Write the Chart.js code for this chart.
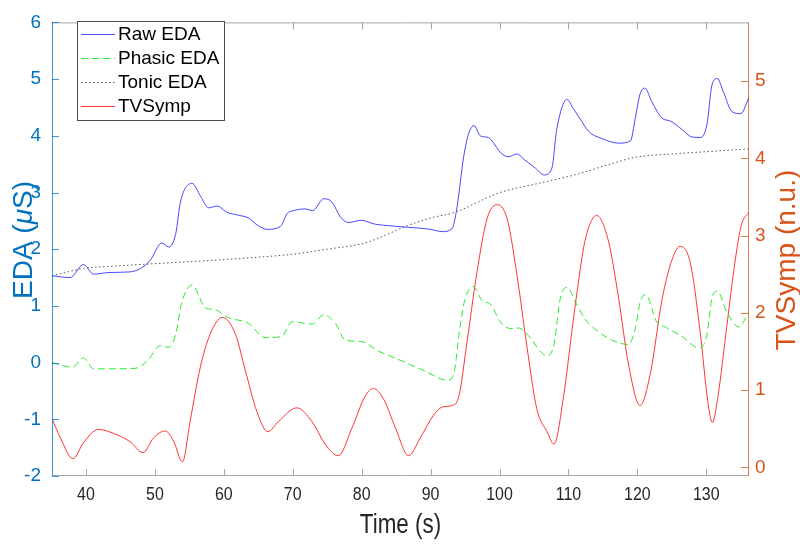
<!DOCTYPE html>
<html>
<head>
<meta charset="utf-8">
<script src="https://cdn.jsdelivr.net/npm/chart.js@4.4.0/dist/chart.umd.min.js"></script>
<style>
  body { margin: 0; background: #fff; }
  #wrap { width: 800px; height: 546px; }
</style>
</head>
<body>
<div id="wrap"><canvas id="eda"></canvas></div>
<script>
// values (time in s)
var rawTime = [35.07, 37.7, 39.65, 41.1, 43.5, 46.4, 47.9, 49.3, 51.0, 52.0, 53.0, 53.7, 55.4, 56.6, 57.8, 59.0, 60.5, 62.1, 63.6, 64.8, 66.3, 68.2, 69.2, 70.1, 71.8, 72.9, 74.5, 75.7, 76.9, 78.1, 79.9, 82.0, 84.4, 86.3, 88.5, 90.0, 91.7, 93.1, 93.8, 94.8, 95.5, 96.3, 97.2, 98.4, 99.1, 100.1, 101.3, 102.5, 103.7, 105.2, 106.5, 107.6, 108.3, 109.8, 110.7, 111.7, 112.9, 114.9, 117.3, 119.0, 119.7, 120.4, 121.1, 122.1, 123.6, 124.8, 126.5, 127.9, 129.1, 130.1, 130.8, 131.6, 132.5, 133.7, 135.0, 136.2];
var rawEda = [1.53, 1.50, 1.73, 1.56, 1.59, 1.60, 1.66, 1.80, 2.11, 2.04, 2.26, 2.83, 3.16, 2.94, 2.73, 2.76, 2.65, 2.60, 2.55, 2.43, 2.35, 2.40, 2.63, 2.68, 2.71, 2.68, 2.89, 2.83, 2.57, 2.47, 2.51, 2.44, 2.41, 2.39, 2.37, 2.35, 2.31, 2.36, 2.71, 3.63, 4.03, 4.18, 4.00, 3.97, 3.88, 3.71, 3.63, 3.68, 3.57, 3.43, 3.31, 3.43, 4.11, 4.64, 4.48, 4.30, 4.08, 3.95, 3.87, 3.91, 4.31, 4.74, 4.84, 4.60, 4.31, 4.26, 4.11, 3.98, 3.97, 4.20, 4.88, 5.01, 4.77, 4.43, 4.39, 4.68];

var phasicTime = [35.07, 38.0, 39.65, 41.1, 44.5, 47.2, 48.9, 50.8, 52.0, 53.0, 53.9, 55.4, 57.3, 58.8, 60.5, 63.6, 66.0, 68.4, 69.9, 72.8, 74.5, 76.2, 77.6, 80.0, 82.5, 86.0, 89.0, 92.4, 93.3, 94.3, 95.0, 96.2, 97.5, 98.7, 100.1, 101.6, 102.8, 104.5, 105.9, 106.9, 107.9, 108.8, 109.8, 111.1, 112.4, 114.4, 116.8, 118.7, 119.7, 120.4, 121.2, 122.8, 124.0, 126.5, 128.9, 130.1, 130.8, 131.6, 133.0, 134.7, 136.2];
var phasicEda = [0.00, -0.08, 0.08, -0.11, -0.11, -0.10, 0.03, 0.30, 0.27, 0.49, 1.06, 1.37, 0.97, 0.93, 0.80, 0.69, 0.44, 0.46, 0.72, 0.68, 0.84, 0.69, 0.40, 0.37, 0.20, 0.02, -0.14, -0.31, -0.23, 0.66, 1.12, 1.34, 1.09, 1.03, 0.72, 0.60, 0.61, 0.43, 0.20, 0.12, 0.32, 1.12, 1.33, 1.05, 0.77, 0.54, 0.37, 0.32, 0.60, 1.06, 1.20, 0.72, 0.63, 0.46, 0.26, 0.49, 1.12, 1.26, 0.89, 0.63, 0.89];

var tonicTime = [35.07, 39.65, 44.0, 49.3, 55.0, 60.5, 65.0, 69.9, 75.0, 80.5, 83.5, 86.3, 90.0, 93.8, 97.0, 100.1, 106.0, 111.5, 115.5, 119.7, 125.0, 130.0, 136.2];
var tonicEda = [1.53, 1.66, 1.70, 1.74, 1.78, 1.82, 1.86, 1.91, 2.00, 2.11, 2.25, 2.40, 2.55, 2.66, 2.84, 3.00, 3.17, 3.33, 3.48, 3.62, 3.68, 3.72, 3.77];

var symTime = [35.07, 36.3, 38.1, 39.65, 41.8, 44.5, 46.4, 48.3, 49.8, 51.5, 52.7, 54.0, 55.1, 56.6, 58.0, 59.8, 61.7, 63.1, 64.8, 66.4, 67.9, 70.6, 72.8, 74.7, 76.6, 78.6, 80.5, 81.7, 83.2, 84.9, 86.8, 88.5, 90.4, 91.7, 93.1, 94.1, 95.3, 96.7, 98.2, 99.6, 101.1, 102.5, 104.0, 105.4, 106.9, 107.9, 109.3, 110.5, 111.3, 112.4, 114.1, 115.8, 117.3, 118.7, 120.4, 121.9, 123.6, 125.0, 126.2, 127.7, 129.1, 130.3, 130.9, 131.7, 133.0, 134.2, 135.1, 136.2];
var tvSymp = [0.63, 0.38, 0.11, 0.32, 0.49, 0.42, 0.33, 0.19, 0.38, 0.47, 0.34, 0.07, 0.59, 1.30, 1.72, 1.94, 1.72, 1.26, 0.72, 0.46, 0.59, 0.77, 0.59, 0.30, 0.15, 0.51, 0.92, 1.02, 0.88, 0.51, 0.15, 0.38, 0.67, 0.78, 0.80, 0.92, 1.63, 2.51, 3.22, 3.40, 3.22, 2.51, 1.55, 0.76, 0.46, 0.30, 0.92, 1.76, 2.30, 2.93, 3.26, 2.93, 2.18, 1.34, 0.80, 1.22, 2.18, 2.68, 2.86, 2.64, 1.76, 0.80, 0.58, 0.92, 1.84, 2.68, 3.14, 3.30];

var seriesNames = ['Raw EDA', 'Phasic EDA', 'Tonic EDA', 'TVSymp'];
var leftRange = [-2, 6];
var rightRange = [-0.113, 5.76];
var timeRange = [35.07, 136.2];

var blue = '#0072BD', orange = '#D95319';
var fam = '"Liberation Sans", Arial, sans-serif';

function pts(t, v) {
  return t.map(function (x, i) { return { x: x, y: v[i] }; });
}

// axis box with inward ticks, like the matlab figure
var boxAxes = {
  id: 'boxAxes',
  afterDraw: function (chart) {
    var ctx = chart.ctx, a = chart.chartArea;
    var sx = chart.scales.x, sl = chart.scales.y, sr = chart.scales.y2;
    ctx.save();
    ctx.lineWidth = 1;
    ctx.strokeStyle = '#a6a6a6';
    ctx.beginPath();
    ctx.moveTo(a.left, a.top + 0.5); ctx.lineTo(a.right, a.top + 0.5);
    ctx.moveTo(a.left, a.bottom - 0.5); ctx.lineTo(a.right, a.bottom - 0.5);
    sx.ticks.forEach(function (t) {
      var p = Math.round(sx.getPixelForValue(t.value)) + 0.5;
      ctx.moveTo(p, a.bottom); ctx.lineTo(p, a.bottom - 7);
      ctx.moveTo(p, a.top); ctx.lineTo(p, a.top + 7);
    });
    ctx.stroke();

    ctx.strokeStyle = 'rgba(0,114,189,0.75)';
    ctx.beginPath();
    ctx.moveTo(a.left + 0.5, a.top); ctx.lineTo(a.left + 0.5, a.bottom);
    sl.ticks.forEach(function (t) {
      var p = Math.round(sl.getPixelForValue(t.value)) + 0.5;
      ctx.moveTo(a.left, p); ctx.lineTo(a.left + 7, p);
    });
    ctx.stroke();

    ctx.strokeStyle = 'rgba(217,83,25,0.75)';
    ctx.beginPath();
    ctx.moveTo(a.right - 0.5, a.top); ctx.lineTo(a.right - 0.5, a.bottom);
    sr.ticks.forEach(function (t) {
      var p = Math.round(sr.getPixelForValue(t.value)) + 0.5;
      ctx.moveTo(a.right, p); ctx.lineTo(a.right - 8, p);
    });
    ctx.stroke();

    // x tick labels, slightly condensed like the original font
    ctx.fillStyle = '#262626';
    ctx.font = '19px ' + fam;
    ctx.textAlign = 'center';
    ctx.textBaseline = 'middle';
    sx.ticks.forEach(function (t) {
      var p = sx.getPixelForValue(t.value);
      ctx.save();
      ctx.translate(p, a.bottom + 19);
      ctx.scale(0.84, 1);
      ctx.fillText(String(t.value), 0, 0);
      ctx.restore();
    });
    ctx.restore();
  }
};

// axis titles (the mu is italic, so drawn by hand)
var axisTitles = {
  id: 'axisTitles',
  afterDraw: function (chart) {
    var ctx = chart.ctx, a = chart.chartArea;
    function rich(parts, x, y, rot, sq, color, size) {
      ctx.save();
      ctx.translate(x, y);
      ctx.rotate(rot);
      ctx.scale(sq, 1);
      ctx.fillStyle = color;
      ctx.textBaseline = 'middle';
      ctx.textAlign = 'left';
      var w = 0;
      parts.forEach(function (p) {
        ctx.font = (p.it ? 'italic ' : '') + size + 'px ' + fam;
        w += ctx.measureText(p.s).width;
      });
      var cx = -w / 2;
      parts.forEach(function (p) {
        ctx.font = (p.it ? 'italic ' : '') + size + 'px ' + fam;
        ctx.fillText(p.s, cx, 0);
        cx += ctx.measureText(p.s).width;
      });
      ctx.restore();
    }
    rich([{ s: 'EDA (' }, { s: 'μ', it: true }, { s: 'S)' }], 24, 240, -Math.PI / 2, 1, blue, 28);
    rich([{ s: 'TVSymp (n.u.)' }], 787, 260, -Math.PI / 2, 1, orange, 28);
    rich([{ s: 'Time (s)' }], (a.left + a.right) / 2, 525, 0, 0.8, '#262626', 28);
  }
};

// legend box in the upper left of the axes
var boxLegend = {
  id: 'boxLegend',
  afterDraw: function (chart) {
    var ctx = chart.ctx;
    var x0 = 77, y0 = 21, w = 147, h = 99;
    ctx.save();
    ctx.fillStyle = '#fff';
    ctx.fillRect(x0, y0, w, h);
    ctx.strokeStyle = '#4d4d4d';
    ctx.lineWidth = 1;
    ctx.strokeRect(x0 + 0.5, y0 + 0.5, w, h);
    ctx.font = '19px ' + fam;
    ctx.textBaseline = 'middle';
    chart.data.datasets.forEach(function (ds, i) {
      var y = y0 + 13 + i * 24;
      ctx.strokeStyle = ds.borderColor;
      ctx.lineWidth = 1;
      ctx.setLineDash(ds.borderDash || []);
      ctx.beginPath();
      ctx.moveTo(81, y + 0.5); ctx.lineTo(115, y + 0.5);
      ctx.stroke();
      ctx.setLineDash([]);
      ctx.fillStyle = '#000';
      ctx.fillText(ds.label, 118, y + 1);
    });
    ctx.restore();
  }
};

var ctx = document.getElementById('eda').getContext('2d');
var chart = new Chart(ctx, {
  type: 'line',
  data: {
    datasets: [{
      label: seriesNames[0],
      data: pts(rawTime, rawEda),
      borderColor: 'rgba(40,40,255,0.85)',
      yAxisID: 'y'
    }, {
      label: seriesNames[1],
      data: pts(phasicTime, phasicEda),
      borderColor: 'rgba(20,230,20,0.9)',
      borderDash: [7, 4],
      yAxisID: 'y'
    }, {
      label: seriesNames[2],
      data: pts(tonicTime, tonicEda),
      borderColor: '#555',
      borderDash: [1.5, 2.5],
      yAxisID: 'y'
    }, {
      label: seriesNames[3],
      data: pts(symTime, tvSymp),
      borderColor: 'rgba(255,30,30,0.9)',
      yAxisID: 'y2'
    }]
  },
  options: {
    responsive: true,
    maintainAspectRatio: false,
    animation: false,
    layout: { padding: { top: 8 } },
    elements: {
      point: { radius: 0 },
      line: { borderWidth: 1, cubicInterpolationMode: 'monotone', fill: false }
    },
    plugins: {
      legend: { display: false },
      tooltip: { enabled: false }
    },
    scales: {
      x: {
        type: 'linear',
        min: timeRange[0],
        max: timeRange[1],
        grid: { display: false, drawTicks: false },
        border: { display: false },
        ticks: { display: false, stepSize: 10, includeBounds: false, autoSkip: false },
        afterFit: function (s) { s.height = 70; }
      },
      y: {
        position: 'left',
        min: leftRange[0],
        max: leftRange[1],
        grid: { display: false, drawTicks: false },
        border: { display: false },
        ticks: {
          stepSize: 1,
          padding: 11,
          color: blue,
          font: { family: fam, size: 19 }
        },
        afterFit: function (s) { s.width = 52; }
      },
      y2: {
        position: 'right',
        min: rightRange[0],
        max: rightRange[1],
        grid: { display: false, drawTicks: false },
        border: { display: false },
        ticks: {
          stepSize: 1,
          includeBounds: false,
          padding: 6,
          color: orange,
          font: { family: fam, size: 19 }
        },
        afterFit: function (s) { s.width = 51; }
      }
    }
  },
  plugins: [boxAxes, axisTitles, boxLegend]
});
</script>
</body>
</html>
